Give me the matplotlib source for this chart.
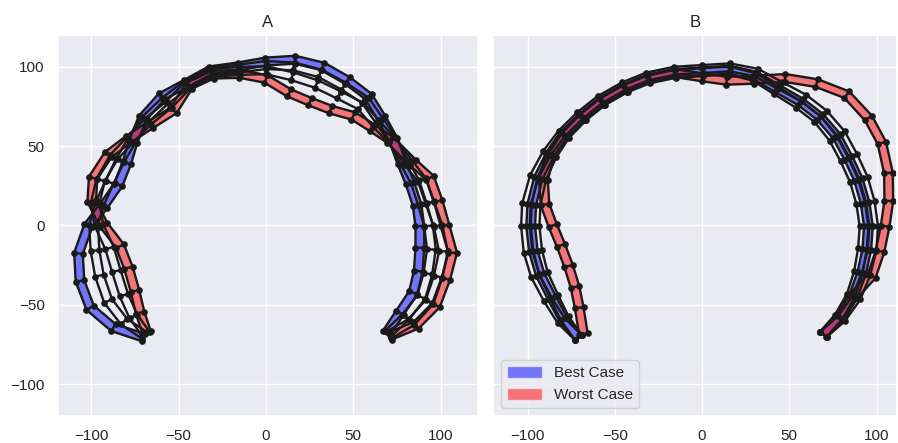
import numpy as np
import matplotlib
matplotlib.use("Agg")
import matplotlib.pyplot as plt
import seaborn as sns
from matplotlib.patches import Patch

sns.set_theme(style="darkgrid")
plt.rcParams['font.family'] = ['Liberation Sans', 'DejaVu Sans']

# centre line of each chain (joint positions)
# panel A
a_best = [(-70.2, -70.6), (-87.4, -64.3), (-100.7, -51.8), (-106.5, -35.0), (-107.4, -17.6),
          (-101.7, 0.0), (-93.1, 12.1), (-84.5, 25.8), (-79.7, 39.4), (-76.0, 53.0),
          (-70.5, 68.0), (-59.7, 81.3), (-45.4, 89.7), (-32.0, 97.8), (-15.8, 100.2),
          (0.0, 103.3), (16.6, 104.4), (32.5, 100.2), (46.5, 91.4), (58.6, 81.3),
          (66.2, 67.7), (72.9, 54.1), (77.7, 39.4), (82.4, 26.8), (86.5, 13.0),
          (88.1, -0.4), (88.1, -14.0), (87.2, -28.7), (84.3, -42.3), (76.7, -54.9),
          (69.1, -67.5)]
a_worst = [(-68.3, -67.5), (-72.1, -54.9), (-75.0, -41.3), (-78.8, -26.6), (-83.6, -13.0),
           (-93.1, 0.6), (-99.8, 15.3), (-99.0, 30.0), (-90.3, 44.7), (-78.5, 54.5),
           (-66.0, 63.5), (-53.0, 72.5), (-44.0, 88.0), (-30.5, 95.0), (-15.0, 95.5),
           (0.0, 92.3), (13.3, 83.5), (25.2, 78.0), (37.0, 73.0), (50.0, 69.0),
           (61.0, 61.4), (71.0, 54.0), (84.3, 39.4), (93.9, 30.0), (98.6, 15.3),
           (102.5, 0.0), (106.9, -17.2), (103.0, -33.5), (97.3, -50.3), (85.9, -62.9),
           (71.0, -69.6)]
a_other1 = [(-69.4, -69.4), (-81.3, -60.5), (-90.4, -47.6), (-95.4, -31.6), (-97.9, -15.8),
            (-98.7, 0.2), (-95.4, 13.2), (-89.6, 27.3), (-83.4, 41.3), (-76.9, 53.5),
            (-69.2, 66.7), (-57.7, 78.7), (-45.0, 89.2), (-31.6, 97.0), (-15.6, 98.8),
            (0.0, 101.1), (15.9, 100.2), (31.0, 95.8), (44.6, 87.7), (56.9, 78.8),
            (64.9, 66.1), (72.4, 54.1), (79.4, 39.4), (85.3, 27.6), (89.5, 13.6),
            (93.1, -0.3), (94.7, -15.1), (92.7, -30.4), (88.9, -45.1), (79.9, -57.7),
            (69.8, -68.2)]
a_other2 = [(-68.8, -68.3), (-75.9, -57.3), (-81.4, -43.9), (-85.7, -28.7), (-89.6, -14.2),
            (-95.7, 0.4), (-97.8, 14.3), (-94.7, 28.7), (-87.1, 43.1), (-77.8, 54.1),
            (-67.8, 65.3), (-55.7, 76.0), (-44.6, 88.7), (-31.1, 96.1), (-15.3, 97.4),
            (0.0, 97.8), (15.0, 94.0), (28.9, 89.1), (41.8, 82.2), (54.3, 75.2),
            (63.1, 63.9), (71.8, 54.0), (81.7, 39.4), (89.3, 28.7), (93.8, 14.4),
            (98.5, -0.1), (101.6, -16.3), (98.6, -32.2), (93.7, -48.1), (83.3, -60.7),
            (70.5, -69.0)]

# panel B
b_best = [(-70.9, -70.6), (-79.5, -59.1), (-86.1, -45.5), (-92.8, -30.8), (-96.7, -16.2),
          (-98.2, -0.4), (-97.6, 13.2), (-93.8, 30.0), (-87.1, 44.7), (-79.1, 57.2),
          (-68.6, 68.5), (-57.5, 78.2), (-44.1, 86.6), (-30.8, 92.5), (-15.5, 96.0),
          (0.4, 97.1), (15.7, 98.1), (30.4, 94.5), (43.2, 86.2), (56.5, 77.8),
          (67.6, 68.4), (77.2, 56.2), (83.8, 42.6), (89.6, 28.9), (93.4, 14.3),
          (95.3, -0.4), (94.4, -15.1), (91.5, -29.8), (86.7, -44.5), (79.1, -58.1),
          (69.5, -68.6)]
b_worst = [(-68.0, -68.4), (-70.4, -51.8), (-72.8, -38.7), (-76.5, -25.5), (-80.9, -12.5),
           (-85.6, 0.0), (-90.0, 13.2), (-90.9, 28.9), (-87.1, 44.7), (-79.1, 57.2),
           (-68.6, 68.5), (-57.5, 78.2), (-44.1, 86.6), (-30.8, 92.5), (-15.5, 96.0),
           (0.4, 93.3), (14.1, 91.2), (29.4, 91.8), (47.6, 92.9), (65.7, 89.7),
           (82.9, 82.4), (95.3, 67.7), (103.0, 52.0), (106.8, 33.1), (107.0, 15.5),
           (104.9, -0.4), (102.0, -16.2), (97.2, -31.9), (86.7, -44.5), (79.1, -58.1),
           (69.5, -68.6)]
b_other1 = [(-70.9, -70.6), (-80.7, -60.0), (-88.3, -46.7), (-95.6, -31.7), (-99.7, -16.7),
            (-101.2, -0.4), (-100.6, 13.6), (-96.2, 30.8), (-88.9, 45.6), (-80.3, 58.1),
            (-69.7, 69.6), (-58.4, 79.4), (-44.8, 87.9), (-31.3, 93.9), (-15.7, 97.5),
            (0.4, 98.6), (15.9, 99.6), (31.0, 96.4), (44.3, 88.4), (58.3, 80.2),
            (69.7, 70.5), (79.6, 58.0), (86.5, 44.0), (92.5, 29.8), (96.4, 14.8),
            (98.3, -0.4), (97.4, -15.6), (93.9, -30.6), (88.5, -45.4), (79.9, -58.7),
            (69.5, -68.6)]
b_other2 = [(-70.9, -70.6), (-78.7, -58.5), (-84.8, -44.8), (-90.9, -30.2), (-94.2, -15.8),
            (-95.7, -0.4), (-95.1, 12.9), (-91.9, 29.4), (-85.8, 44.0), (-78.3, 56.6),
            (-68.2, 68.1), (-57.2, 77.8), (-43.9, 86.2), (-30.6, 92.0), (-15.4, 95.5),
            (0.4, 96.6), (15.6, 97.6), (30.1, 93.5), (42.5, 84.9), (55.3, 76.2),
            (66.2, 67.0), (75.2, 54.7), (81.6, 41.5), (87.2, 28.1), (90.9, 13.9),
            (92.8, -0.4), (91.9, -14.7), (89.6, -29.2), (85.4, -43.8), (78.3, -57.5),
            (69.5, -68.6)]

ticks = [-100, -50, 0, 50, 100]
half_width = 2.5  # half the width of a link


# left / right rail of a chain
def rails(points):
    p = np.array(points, dtype=float)
    seg = np.diff(p, axis=0)
    seg = seg / np.linalg.norm(seg, axis=1)[:, None]
    tang = np.vstack([seg[:1], seg[:-1] + seg[1:], seg[-1:]])
    tang = tang / np.linalg.norm(tang, axis=1)[:, None]
    normal = np.column_stack([-tang[:, 1], tang[:, 0]])
    return p + half_width * normal, p - half_width * normal


def draw_chain(ax, points, color=None):
    left, right = rails(points)
    if color is not None:
        for i in range(len(left) - 1):
            quad = np.array([left[i], left[i + 1], right[i + 1], right[i]])
            ax.fill(quad[:, 0], quad[:, 1], color=color, alpha=0.5, lw=0)
    ax.plot(left[:, 0], left[:, 1], 'k-', lw=1.7)
    ax.plot(right[:, 0], right[:, 1], 'k-', lw=1.7)
    for l, r in zip(left, right):
        ax.plot([l[0], r[0]], [l[1], r[1]], 'k-', lw=1.7)
    ax.plot(left[:, 0], left[:, 1], 'ko', ms=4.8, mew=0)
    ax.plot(right[:, 0], right[:, 1], 'ko', ms=4.8, mew=0)


fig = plt.figure(figsize=(8.98, 4.43), dpi=100)
ax1 = fig.add_axes([0.0646, 0.061, 0.4677, 0.860])
ax2 = fig.add_axes([0.549, 0.061, 0.4499, 0.860], sharey=ax1)

for ax, title, chains in [(ax1, "A", (a_other1, a_other2, a_best, a_worst)),
                          (ax2, "B", (b_other1, b_other2, b_best, b_worst))]:
    draw_chain(ax, chains[0])
    draw_chain(ax, chains[1])
    draw_chain(ax, chains[2], 'blue')
    draw_chain(ax, chains[3], 'red')
    ax.set_title(title, fontsize=12)
    ax.set_xticks(ticks)
    ax.set_yticks(ticks)
    ax.tick_params(labelsize=11)

ax1.set_xlim(-119.1, 121.4)
ax2.set_xlim(-119.8, 111.7)
ax1.set_ylim(-120, 120)
ax2.tick_params(labelleft=False)

handles = [Patch(facecolor='blue', alpha=0.5, label='Best Case'),
           Patch(facecolor='red', alpha=0.5, label='Worst Case')]
ax2.legend(handles=handles, loc='lower left', fontsize=11,
           handlelength=2.3, handleheight=0.85)

fig.savefig("out.png", dpi=100)
